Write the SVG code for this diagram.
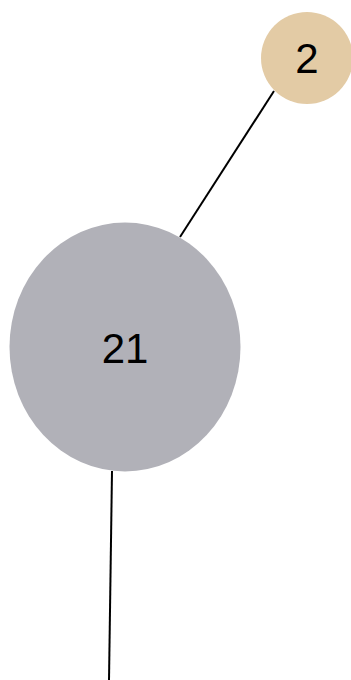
<svg xmlns="http://www.w3.org/2000/svg" width="351" height="680" viewBox="0 0 351 680">
<style>
.edge{stroke:#000;stroke-width:2;fill:none}
.lbl{font-family:"Liberation Sans",Arial,sans-serif;font-size:42px;fill:#000;text-anchor:middle}
</style>
<rect width="351" height="680" fill="#fff"/>
<g id="edges">
<line class="edge" x1="274" y1="91" x2="180" y2="237"/>
<line class="edge" x1="112" y1="471" x2="109" y2="680"/>
</g>
<g id="node-2">
<circle cx="307" cy="58" r="46" fill="#E3CBA5"/>
<text class="lbl" x="307" y="73">2</text>
</g>
<g id="node-21">
<ellipse cx="125" cy="347" rx="115.5" ry="124.5" fill="#B1B1B8"/>
<text class="lbl" x="125" y="363">21</text>
</g>
</svg>
